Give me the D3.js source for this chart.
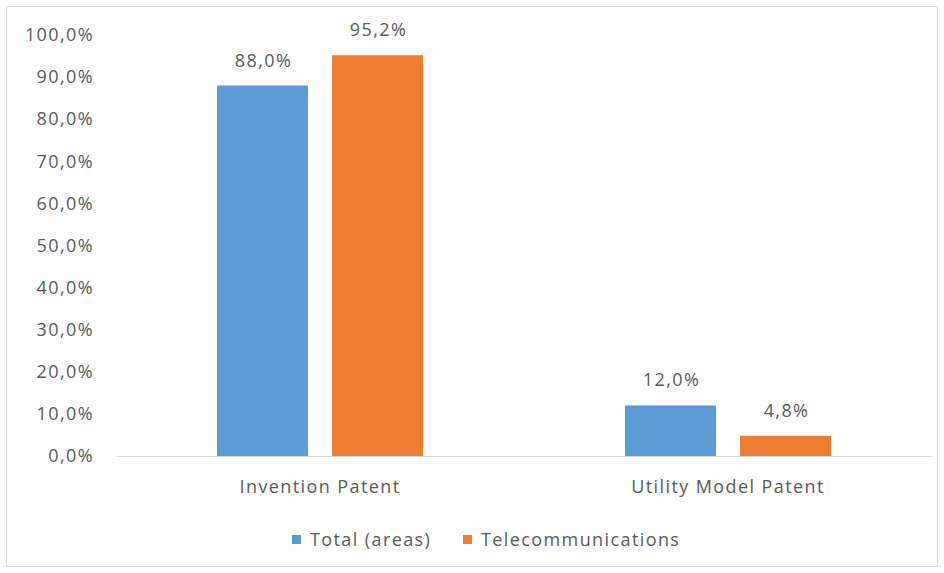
<!DOCTYPE html>
<html>
<head>
<meta charset="utf-8">
<script src="https://cdn.jsdelivr.net/npm/d3@7"></script>
<style>
  body { margin: 0; background: #fff; }
  text { font-family: "Open Sans", sans-serif; fill: #595959; letter-spacing: 1.4px; }
</style>
</head>
<body>
<div id="chart"></div>
<script>
(function () {

  // Data
  const categories = ["Invention Patent", "Utility Model Patent"]
  const seriesNames = ["Total (areas)", "Telecommunications"]
  const totalAreas = [88.0, 12.0]
  const telecom = [95.2, 4.8]
  const yTicks = [0, 10, 20, 30, 40, 50, 60, 70, 80, 90, 100]

  const colors = ["#5B9BD5", "#ED7D31"]
  const fmt = v => d3.format(".1f")(v).replace(".", ",") + "%"

  const W = 944, H = 573
  const margin = { top: 35, right: 12, bottom: 117, left: 116 }
  const width = W - margin.left - margin.right
  const height = H - margin.top - margin.bottom
  const fontSize = "18px"

  const svg = d3.select("#chart").append("svg")
      .attr("width", W)
      .attr("height", H)

  // outer frame
  svg.append("rect")
    .attr("x", 6.5).attr("y", 6.5)
    .attr("width", W - 13).attr("height", H - 13)
    .attr("fill", "none").attr("stroke", "#d9d9d9")

  const g = svg.append("g")
      .attr("transform", "translate(" + margin.left + "," + margin.top + ")")

  const rows = categories.map((c, i) => ({ cat: c, values: [totalAreas[i], telecom[i]] }))

  const x0 = d3.scaleBand()
    .domain(categories)
    .range([0, width])
    .paddingInner(0.495)
    .paddingOuter(0.2475)

  const x1 = d3.scaleBand()
    .domain(seriesNames)
    .range([0, x0.bandwidth()])
    .paddingInner(0.209)

  const y = d3.scaleLinear()
    .domain([0, 100])
    .range([height, 0])

  // y axis labels
  const yAxis = g.append("g")
    .call(d3.axisLeft(y).tickValues(yTicks).tickFormat(fmt).tickSize(0).tickPadding(22))
  yAxis.select(".domain").remove()
  yAxis.selectAll("text")
    .style("font-size", fontSize)
    .attr("fill", "#595959")
    .style("font-family", "'Open Sans', sans-serif")

  // bars
  const groups = g.selectAll(".grp")
    .data(rows)
    .join("g")
    .attr("class", "grp")
    .attr("transform", d => "translate(" + x0(d.cat) + ",0)")

  groups.selectAll("rect")
    .data(d => d.values.map((v, i) => ({ key: seriesNames[i], v: v, i: i })))
    .join("rect")
    .attr("x", d => x1(d.key))
    .attr("width", x1.bandwidth())
    .attr("y", d => y(d.v))
    .attr("height", d => height - y(d.v))
    .attr("fill", d => colors[d.i])

  groups.selectAll(".lbl")
    .data(d => d.values.map((v, i) => ({ key: seriesNames[i], v: v })))
    .join("text")
    .attr("class", "lbl")
    .attr("x", d => x1(d.key) + x1.bandwidth() / 2 + 1)
    .attr("y", d => y(d.v) - 19)
    .attr("text-anchor", "middle")
    .style("font-size", fontSize)
    .text(d => fmt(d.v))

  // x axis baseline + labels
  const xAxis = g.append("g")
    .attr("transform", "translate(0," + height + ")")
    .call(d3.axisBottom(x0).tickSize(0).tickPadding(24))
  xAxis.select(".domain").attr("stroke", "#d9d9d9")
  xAxis.selectAll("text")
    .style("font-size", fontSize)
    .attr("fill", "#595959")
    .style("font-family", "'Open Sans', sans-serif")

  // legend
  const legend = svg.append("g").attr("transform", "translate(0,540)")
  const legendX = [292, 463]
  seriesNames.forEach((s, i) => {
    legend.append("rect")
      .attr("x", legendX[i]).attr("y", -5)
      .attr("width", 9).attr("height", 9)
      .attr("fill", colors[i])
    legend.append("text")
      .attr("x", legendX[i] + 18)
      .attr("y", 0)
      .attr("dy", "0.35em")
      .style("font-size", fontSize)
      .text(s)
  })
})();
</script>
</body>
</html>
